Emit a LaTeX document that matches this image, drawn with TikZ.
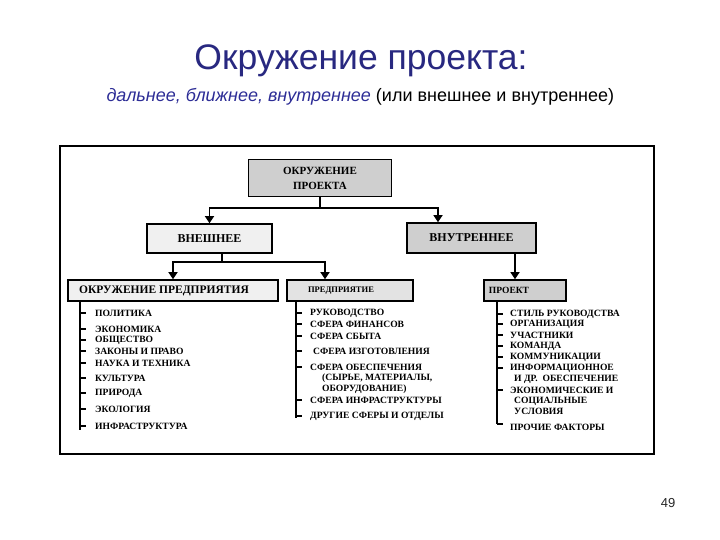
\documentclass[tikz,border=0pt]{standalone}
\usepackage{fontspec}
\setmainfont{Liberation Serif}
\newfontfamily\arialf{Liberation Sans}
\usetikzlibrary{arrows.meta}
\definecolor{titleblue}{RGB}{40,40,128}
\definecolor{subblue}{RGB}{45,45,150}
\newcommand{\bfs}[1]{\bfseries\fontsize{#1}{#1}\selectfont}
\tikzset{
  box/.style={draw=black, line width=1.6pt, inner sep=0pt, align=center, font=\bfs{10}},
  darkbox/.style={box, fill=gray!38},
  lightbox/.style={box, fill=gray!12},
  item/.style={anchor=west, inner sep=0pt, font=\bfs{9.6}},
  wire/.style={line width=1.5pt},
  arr/.style={line width=1.5pt, -{Triangle[width=9pt,length=7pt]}},
  tick/.style={line width=2pt},
}
\begin{document}
\begin{tikzpicture}[x=1pt,y=-1pt]
\useasboundingbox (0,0) rectangle (720,540);
% titles
\node[font=\arialf\fontsize{35.5}{38}\selectfont, text=titleblue] (title) at (361,61) {Окружение проекта:};
\node[font=\arialf\fontsize{18}{20}\selectfont, anchor=west] (sub) at (103,97) {\textcolor{subblue}{\itshape дальнее, ближнее, внутреннее} (или внешнее и внутреннее)};
\node[font=\arialf\fontsize{13}{14}\selectfont, text=black!85] (pg) at (668,503) {49};
% frame
\draw[line width=2pt] (60,146) rectangle (654,454);
% boxes
\node[darkbox, font=\bfs{11}, minimum width=143pt, minimum height=37pt] (top) at (320,178) {ОКРУЖЕНИЕ\\[4pt]ПРОЕКТА};
\node[lightbox, font=\bfs{12}, minimum width=125pt, minimum height=29pt] (ext) at (209.5,238.5) {ВНЕШНЕЕ};
\node[darkbox, font=\bfs{12}, minimum width=129pt, minimum height=30pt] (int) at (471.5,238) {ВНУТРЕННЕЕ};
\node[lightbox, font=\bfs{11.5}, minimum width=210pt, minimum height=21pt] (env) at (173,290.5) {ОКРУЖЕНИЕ ПРЕДПРИЯТИЯ\hspace*{18pt}};
\node[lightbox, fill=gray!22, font=\bfs{8.5}, minimum width=126pt, minimum height=21pt] (ent) at (350,290.5) {ПРЕДПРИЯТИЕ\hspace*{18pt}};
\node[darkbox, font=\bfs{9.5}, minimum width=82pt, minimum height=21pt] (prj) at (525,290.5) {ПРОЕКТ\hspace*{32pt}};
% connectors
\coordinate (j1) at (320,208);
\draw[wire] (top.south) -- (j1);
\draw[arr] (j1) -| (ext.north);
\draw[arr] (j1) -| ([xshift=-33.5pt]int.north);
\coordinate (j2) at (222,262);
\draw[wire] ([xshift=12.5pt]ext.south) -- (j2);
\draw[arr] (j2) -| (env.north);
\draw[arr] (j2) -| ([xshift=-25pt]ent.north);
\draw[arr] ([xshift=43.5pt]int.south) -- ([xshift=-10pt]prj.north);
% left list
\coordinate (s1) at (80,301.5);
\coordinate (e1) at (80,430);
\draw[wire] (s1) -- (e1);
\node[item] (l1) at (95,313) {ПОЛИТИКА};
\node[item] (l2) at (95,329) {ЭКОНОМИКА};
\node[item] (l3) at (95,340) {ОБЩЕСТВО};
\node[item] (l4) at (95,351) {ЗАКОНЫ И ПРАВО};
\node[item] (l5) at (95,363) {НАУКА И ТЕХНИКА};
\node[item] (l6) at (95,378) {КУЛЬТУРА};
\node[item] (l7) at (95,393) {ПРИРОДА};
\node[item] (l8) at (95,409) {ЭКОЛОГИЯ};
\node[item] (l9) at (95,426) {ИНФРАСТРУКТУРА};
\foreach \n in {l1,l2,l3,l4,l5,l6,l7,l8,l9} \draw[tick] (s1 |- \n.west) -- ++(6,0);
% middle list
\coordinate (s2) at (296,301.5);
\coordinate (e2) at (296,418);
\draw[wire] (s2) -- (e2);
\node[item] (m1) at (310,313) {РУКОВОДСТВО};
\node[item] (m2) at (310,324) {СФЕРА ФИНАНСОВ};
\node[item] (m3) at (310,336) {СФЕРА СБЫТА};
\node[item] (m4) at (313,351) {СФЕРА ИЗГОТОВЛЕНИЯ};
\node[item] (m5) at (310,367) {СФЕРА ОБЕСПЕЧЕНИЯ};
\node[item] (m5b) at (322,378) {(СЫРЬЕ, МАТЕРИАЛЫ,};
\node[item] (m5c) at (322,389) {ОБОРУДОВАНИЕ)};
\node[item] (m6) at (310,400) {СФЕРА ИНФРАСТРУКТУРЫ};
\node[item] (m7) at (310,416) {ДРУГИЕ СФЕРЫ И ОТДЕЛЫ};
\foreach \n in {m1,m2,m3,m4,m5,m6,m7} \draw[tick] (s2 |- \n.west) -- ++(6,0);
% right list
\coordinate (s3) at (497,301.5);
\coordinate (e3) at (497,424);
\draw[wire] (s3) -- (e3);
\node[item] (r1) at (510,314) {СТИЛЬ РУКОВОДСТВА};
\node[item] (r2) at (510,324) {ОРГАНИЗАЦИЯ};
\node[item] (r3) at (510,335) {УЧАСТНИКИ};
\node[item] (r4) at (510,346) {КОМАНДА};
\node[item] (r5) at (510,357) {КОММУНИКАЦИИ};
\node[item] (r6) at (510,368) {ИНФОРМАЦИОННОЕ};
\node[item] (r6b) at (514,379) {И ДР.\ \ ОБЕСПЕЧЕНИЕ};
\node[item] (r7) at (510,390) {ЭКОНОМИЧЕСКИЕ И};
\node[item] (r7b) at (514,401) {СОЦИАЛЬНЫЕ};
\node[item] (r7c) at (514,411) {УСЛОВИЯ};
\node[item] (r8) at (510,427) {ПРОЧИЕ ФАКТОРЫ};
\foreach \n in {r1,r2,r3,r4,r5,r6,r7} \draw[tick] (s3 |- \n.west) -- ++(6,0);
\draw[tick] (e3) -- ++(6,0);
\end{tikzpicture}
\end{document}
